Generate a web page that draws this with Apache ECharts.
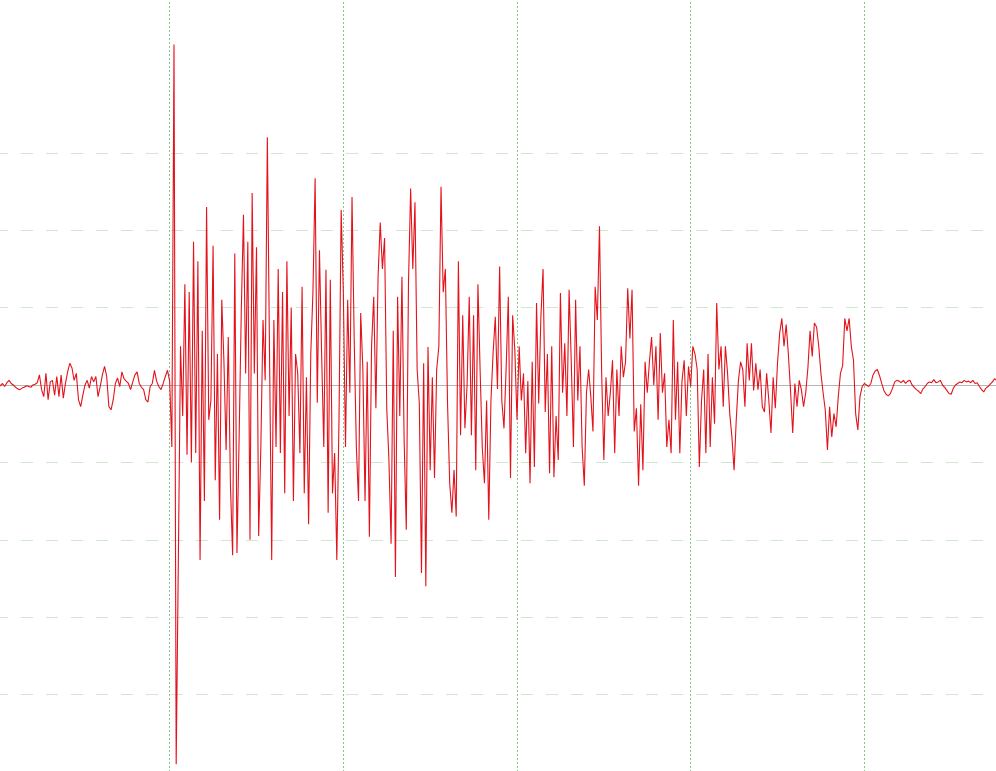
<!DOCTYPE html>
<html>
<head>
<meta charset="utf-8">
<script src="https://cdn.jsdelivr.net/npm/echarts@6/dist/echarts.min.js"></script>
<style>
  html, body { margin: 0; padding: 0; background: #fff; }
  #chart { width: 996px; height: 771px; }
</style>
</head>
<body>
<div id="chart"></div>
<script>
// seconds between two samples of the trace
const SAMPLE_STEP = 0.125

// quiet background before the first arrival
const preEvent = [
  0, 0.1, -0.1, 0.2, -0.2, 0.3, 0.6, 0.2, 0, -0.3,
  -0.5, -0.6, -0.4, -0.3, -0.1, -0.2, -0.3, 0, 0.1, 0.3,
  1.3, -0.6, -1.5, 1.5, -1.9, 0.4, 0.6, -1.3, 1.1, -1.5,
  1.3, -1.7, 0.2, 1.7, 2.8, 2.2, 0.6, 1.5, -1.9, -2.8,
  -1.3, 0, 0.6, -0.4, 1.1, 0.4, 1.1, -1.5, -0.2, 1.3,
  2.4, 1.1, -2.8, -3.2, -1.9, 0.2, 0.9, -0.2, 1.7, 0.8,
  0.5, 0.2, -0.6, 0.4, 1.3, 1.7, 0.2, -0.3, -0.6, -1.9,
  -2.2, -0.2, 0.2, 1.9, 0.5, -0.2, -0.6, 0.2, 1.1, 1.9,
  0.5
]

// onset and strongest shaking
const eventOnset = [
  -8, 44, -49, -22.6, 5, -4, 13, -9, 12, -10,
  18.5, -8.8, 16, -22.6, 7, -15, 23, -4.5, -2, 18,
  -12.3, 4, -17.4, 11, 3, -8.4, 6.2, -13, -22, 17,
  -21.7, -6.7, 9.7, 22, 1.5, 18.5, -20, 24.8, 1.5, 17.8,
  -19.5, -8, 8.4, 0.6, 32,
  4, -22.6, 8.4, -8, 15, -8.8, 12, -14, 16, -4,
  10, -15, 4, 1.5, -8.8, 12.7, -14, 1, -18, 4,
  12, 26.7, -2.3, 17.4, 4, -8, 14.9, -16.5, 13.6, -14,
  -8.8, -22.6, -4.5, 22.6
]

const eventMiddle = [
  12, -8, 11, -1, 24.3, 6, -8, -15, 9.3, 2,
  -15, 3, -19.6, 5, 11.4, -3, 14, 21, 15, 19,
  -3, -9.7, -20.5, 7, -24.8, 11.4, -4, 14, -7, -18.7,
  13, 25.4, 15, 23.6, 2, -2.4, -24.3, 2.8, -26, 4.9,
  -11, 1, -12, 2, 5, 25.6, 12, 15, -2.4, -12.7,
  -16.5, -11, -17, 16, -6.5, 9, -5.6, 0, 11.4, -6.5,
  9, -11, 13, 2, -8, -12.7, -2, -17.4, -2, 4.2,
  8.8, -0.5, 15.3, -2, -5.6, 2.2, 11.4, -12, 9, 4.5
]

const eventLate = [
  -4.5, 5, -2, 1.5, -8.8, 0.5, -12.7, 3, -10.6, 10.6,
  -2.4, 8.8, 15, -3.5, 4, -11.4, 5, -11.9, -4, -9.7,
  11.9, -1, 5.4, -4, 12.3, 3, -8, 11, -2, 5,
  -8, -13, -1, 2, -1.5, -6, 12.7, 8.4, 20.5, 1.5,
  -9.7, 1, -4, -1, 3.2, -8.8, 2, -4, 5, 1,
  3, 12.5, 6, 12.3, -6, -3, -13, -2.5, -11, 3,
  -1, 3, 6.2, 0, 5, -4.5, 6.7, -1, 1.5, -8,
  -4.5, -8.8, 8.4, -4.5, 3, -8.8, 0.5, 3.2, -4, 2.4,
  -0.2, 5, 4, 2, -10.6, -2, 2
]

const eventTail = [
  -8.8, 4, -8, 1, -5, 10.6, 2, 5, -2.8, 5,
  1.5, -3.7, -6.7, -11, -4.5, 0.6, 3, 2, -2.8, 5.4,
  0.6, 5.4, -0.7, 2.8, -0.6, 2, -2.8, -3.5, 1.5, -2,
  -6.2, 1, -3, 2.8, 6.7, 8.6, 5, 7.8, 4, -0.7,
  -6.2, 0.2, -2.8, 0.6, -0.6, -2.8, -1, 2.2, 7, 3.7,
  8, 7.5, 5, 1.5, -1, -3.2, -8.4, -2.8, -6.7, -3.7,
  -5.4, -1.5, 1.5, 2.5, 8.6, 7, 8.6, 5, 3.2, -3.7,
  -5.8, -1.5, -0.2, 0.2
]

// back to background noise
const coda = [
  0, -0.2, 0.2, 1.3, 1.8, 2, 1.2, 0.2, -0.7, -1.2,
  -1.4, -1.1, -0.4, 0.4, 0.6, 0.5, 0.3, 0.6, 0.2, 0.5,
  0.6, 0, -0.3, -0.6, -0.8, -1.1, -0.5, -0.2, 0.2, 0.4,
  0.3, 0.7, 0.3, 0.4, 0.6, 0, -0.3, -0.7, -1.1, -1.2,
  -0.4, 0, 0.2, 0.4, 0.3, 0.6, 0.4, 0.5, 0.3, 0.6,
  0.2, 0.3, -0.2, -0.6, -0.9, -0.4, -0.2, 0.1, 0.4, 0.8,
  0.6
]

const trace = [].concat(preEvent, eventOnset, eventMiddle, eventLate, eventTail, coda)

const chart = echarts.init(document.getElementById('chart'))

const hiddenParts = {
  axisLine: { show: false },
  axisTick: { show: false },
  axisLabel: { show: false }
}

chart.setOption({
  animation: false,
  backgroundColor: '#fff',
  grid: [
    { left: -4, right: -42, top: -2, bottom: -1, outerBoundsMode: 'none' },
    // the dashed level lines only start at +30
    { left: -4, right: -42, top: 152.8, bottom: -1, outerBoundsMode: 'none' }
  ],
  xAxis: [
    {
      gridIndex: 0,
      type: 'value',
      min: 0,
      max: 60,
      interval: 10,
      ...hiddenParts,
      splitLine: {
        show: true,
        showMinLine: false,
        showMaxLine: false,
        lineStyle: { color: '#86c686', width: 1, type: [2, 2] }
      }
    },
    {
      gridIndex: 1,
      type: 'value',
      min: 0,
      max: 60,
      show: false
    }
  ],
  yAxis: [
    {
      gridIndex: 0,
      type: 'value',
      min: -50,
      max: 50,
      interval: 50,
      z: 1,
      ...hiddenParts,
      splitLine: {
        show: true,
        showMinLine: false,
        showMaxLine: false,
        lineStyle: { color: '#b5b5b5', width: 1, type: 'solid' }
      }
    },
    {
      gridIndex: 1,
      type: 'value',
      min: -50,
      max: 30,
      interval: 10,
      ...hiddenParts,
      splitLine: {
        show: true,
        showMinLine: false,
        lineStyle: { color: '#cfe6cf', width: 1, type: [12, 13] }
      }
    }
  ],
  series: [
    {
      type: 'line',
      xAxisIndex: 0,
      yAxisIndex: 0,
      data: trace.map((v, i) => [i * SAMPLE_STEP, v]),
      showSymbol: false,
      symbol: 'none',
      lineStyle: { color: '#e3121b', width: 1.1 },
      z: 3
    }
  ]
})
</script>
</body>
</html>
